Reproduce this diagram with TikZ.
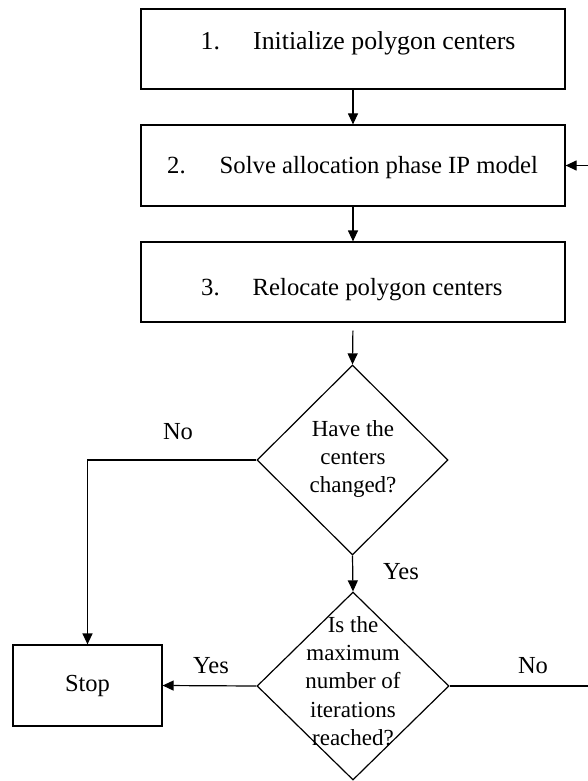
\documentclass[tikz,border=0pt]{standalone}
\usepackage{fontspec}
\setmainfont{Liberation Serif}
\usetikzlibrary{arrows.meta,shapes.geometric}
\begin{document}
\begin{tikzpicture}[x=1pt,y=-1pt,
  stepbox/.style={draw,line width=1.2pt,rectangle,inner sep=0pt,minimum width=424pt,minimum height=80pt},
  decision/.style={draw,line width=1.2pt,diamond,inner sep=0pt},
  boxtext/.style={inner sep=0pt,anchor=base west,font=\fontsize{24.7}{30}\selectfont},
  dtext/.style={inner sep=0pt,align=center,font=\fontsize{23}{28.3}\selectfont},
  lbl/.style={inner sep=0pt,font=\fontsize{24.5}{29}\selectfont},
  conn/.style={line width=1.2pt,-{Triangle[length=11pt,width=10pt]}},
  plain/.style={line width=1.2pt}
]
\useasboundingbox (0,0) rectangle (587,781);

% process boxes
\node[stepbox] (b1) at (353,49) {};
\node[stepbox,minimum height=81pt] (b2) at (353,165.5) {};
\node[stepbox] (b3) at (353,282) {};

\node[boxtext,font=\fontsize{25.8}{30}\selectfont] (n1) at (200.4,50) {1.};
\node[boxtext,font=\fontsize{25.8}{30}\selectfont] (t1) at (253,50) {Initialize polygon centers};
\node[boxtext] (n2) at (167,173.3) {2.};
\node[boxtext] (t2) at (219.5,173.3) {Solve allocation phase IP model};
\node[boxtext] (n3) at (201,295) {3.};
\node[boxtext] (t3) at (252.5,295) {Relocate polygon centers};

% decisions
\node[decision,minimum width=191pt,minimum height=190pt] (d1) at (352.5,460) {};
\node[dtext] (d1t) at (353,459) {Have the\\centers\\changed?};
\node[decision,minimum width=192pt,minimum height=188pt] (d2) at (353,686) {};
\node[dtext] (d2t) at (353,681) {Is the\\maximum\\number of\\iterations\\reached?};

% stop
\node[draw,line width=1.2pt,rectangle,inner sep=0pt,minimum width=149pt,minimum height=81pt,
      font=\fontsize{24.5}{29}\selectfont] (stop) at (87.5,685.5) {Stop};

% connectors
\draw[conn] (b1.south) -- (b2.north);
\draw[conn] (b2.south) -- (b3.north);
\draw[conn,shorten <=8pt] (b3.south) -- (d1.north);
\draw[conn] (d1.south) -- (d2.north);
\draw[conn] (d1.west) -| (stop.north);
\draw[conn] (d2.west) -- (stop.east);
\coordinate (rt) at (592,686);
\draw[conn] (d2.east) -- (rt) |- (b2.east);

% labels
\node[lbl] (lno1) at (178,432) {No};
\node[lbl] (lyes1) at (401,571.5) {Yes};
\node[lbl] (lyes2) at (211,666) {Yes};
\node[lbl] (lno2) at (533,665.5) {No};
\end{tikzpicture}
\end{document}
